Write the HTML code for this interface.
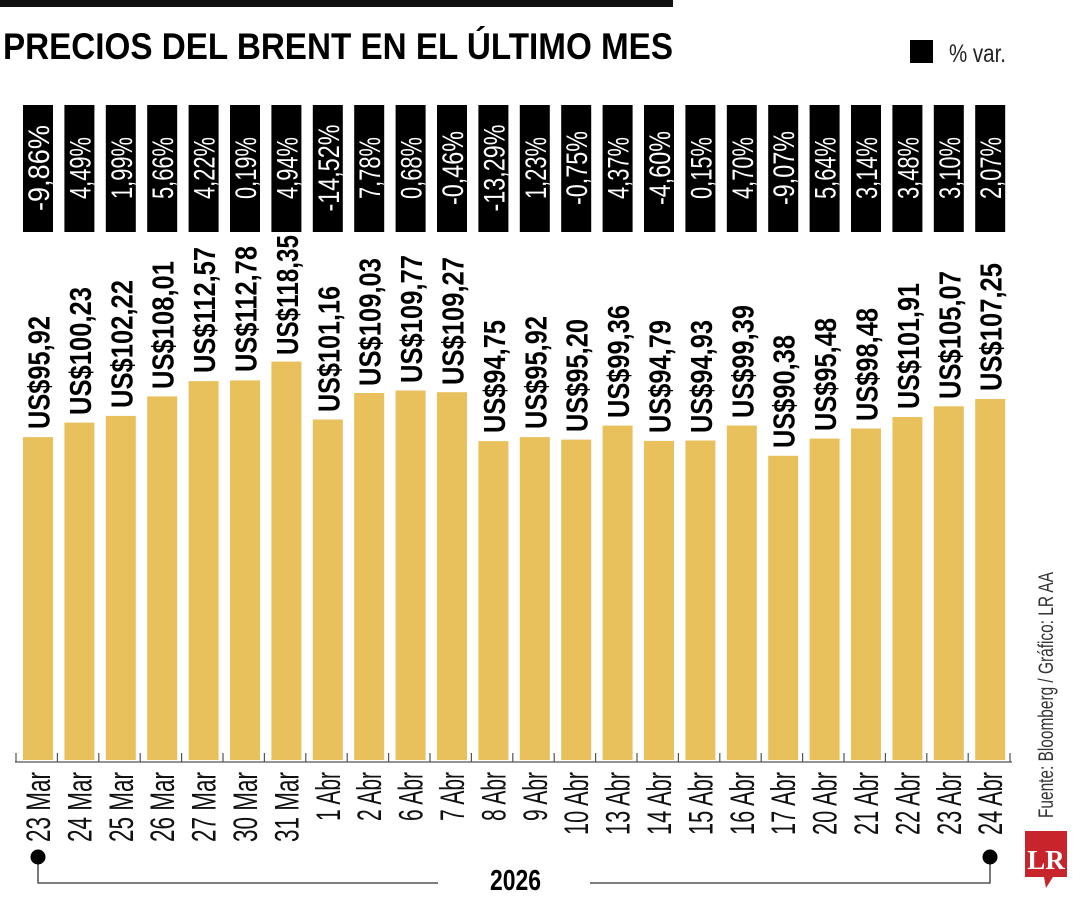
<!DOCTYPE html>
<html><head><meta charset="utf-8"><style>
html,body{margin:0;padding:0;background:#fff;width:1080px;height:900px;overflow:hidden}
svg{display:block}
text{font-family:"Liberation Sans",sans-serif}
.v{font-size:31px;font-weight:bold;fill:#000}
.p{font-size:30px;fill:#fff}
.d{font-size:34px;fill:#111}
</style></head><body>
<svg width="1080" height="900" viewBox="0 0 1080 900" xmlns="http://www.w3.org/2000/svg">
<rect x="0" y="0" width="673" height="7" fill="#111"/>
<text x="3" y="59" font-size="37" font-weight="bold" textLength="670" lengthAdjust="spacingAndGlyphs">PRECIOS DEL BRENT EN EL ÚLTIMO MES</text>
<rect x="910" y="40" width="23" height="23" fill="#000"/>
<text x="949" y="62" font-size="25" fill="#222" textLength="57" lengthAdjust="spacingAndGlyphs">% var.</text>

<g fill="#000">
<rect x="23" y="105" width="30" height="127"/><rect x="64.4" y="105" width="30" height="127"/><rect x="105.8" y="105" width="30" height="127"/><rect x="147.2" y="105" width="30" height="127"/><rect x="188.6" y="105" width="30" height="127"/><rect x="230" y="105" width="30" height="127"/><rect x="271.4" y="105" width="30" height="127"/><rect x="312.8" y="105" width="30" height="127"/><rect x="354.2" y="105" width="30" height="127"/><rect x="395.6" y="105" width="30" height="127"/><rect x="437" y="105" width="30" height="127"/><rect x="478.4" y="105" width="30" height="127"/><rect x="519.8" y="105" width="30" height="127"/><rect x="561.2" y="105" width="30" height="127"/><rect x="602.6" y="105" width="30" height="127"/><rect x="644" y="105" width="30" height="127"/><rect x="685.4" y="105" width="30" height="127"/><rect x="726.8" y="105" width="30" height="127"/><rect x="768.2" y="105" width="30" height="127"/><rect x="809.6" y="105" width="30" height="127"/><rect x="851" y="105" width="30" height="127"/><rect x="892.4" y="105" width="30" height="127"/><rect x="933.8" y="105" width="30" height="127"/><rect x="975.2" y="105" width="30" height="127"/>
</g>
<g class="p" text-anchor="middle">
<text transform="translate(49,168) rotate(-90)" textLength="86" lengthAdjust="spacingAndGlyphs">-9,86%</text>
<text transform="translate(90.4,168) rotate(-90)" textLength="62" lengthAdjust="spacingAndGlyphs">4,49%</text>
<text transform="translate(131.8,168) rotate(-90)" textLength="62" lengthAdjust="spacingAndGlyphs">1,99%</text>
<text transform="translate(173.2,168) rotate(-90)" textLength="62" lengthAdjust="spacingAndGlyphs">5,66%</text>
<text transform="translate(214.6,168) rotate(-90)" textLength="62" lengthAdjust="spacingAndGlyphs">4,22%</text>
<text transform="translate(256,168) rotate(-90)" textLength="62" lengthAdjust="spacingAndGlyphs">0,19%</text>
<text transform="translate(297.4,168) rotate(-90)" textLength="62" lengthAdjust="spacingAndGlyphs">4,94%</text>
<text transform="translate(338.8,168) rotate(-90)" textLength="87" lengthAdjust="spacingAndGlyphs">-14,52%</text>
<text transform="translate(380.2,168) rotate(-90)" textLength="62" lengthAdjust="spacingAndGlyphs">7,78%</text>
<text transform="translate(421.6,168) rotate(-90)" textLength="62" lengthAdjust="spacingAndGlyphs">0,68%</text>
<text transform="translate(463,168) rotate(-90)" textLength="74" lengthAdjust="spacingAndGlyphs">-0,46%</text>
<text transform="translate(504.4,168) rotate(-90)" textLength="87" lengthAdjust="spacingAndGlyphs">-13,29%</text>
<text transform="translate(545.8,168) rotate(-90)" textLength="62" lengthAdjust="spacingAndGlyphs">1,23%</text>
<text transform="translate(587.2,168) rotate(-90)" textLength="74" lengthAdjust="spacingAndGlyphs">-0,75%</text>
<text transform="translate(628.6,168) rotate(-90)" textLength="62" lengthAdjust="spacingAndGlyphs">4,37%</text>
<text transform="translate(670,168) rotate(-90)" textLength="74" lengthAdjust="spacingAndGlyphs">-4,60%</text>
<text transform="translate(711.4,168) rotate(-90)" textLength="62" lengthAdjust="spacingAndGlyphs">0,15%</text>
<text transform="translate(752.8,168) rotate(-90)" textLength="62" lengthAdjust="spacingAndGlyphs">4,70%</text>
<text transform="translate(794.2,168) rotate(-90)" textLength="74" lengthAdjust="spacingAndGlyphs">-9,07%</text>
<text transform="translate(835.6,168) rotate(-90)" textLength="62" lengthAdjust="spacingAndGlyphs">5,64%</text>
<text transform="translate(877,168) rotate(-90)" textLength="62" lengthAdjust="spacingAndGlyphs">3,14%</text>
<text transform="translate(918.4,168) rotate(-90)" textLength="62" lengthAdjust="spacingAndGlyphs">3,48%</text>
<text transform="translate(959.8,168) rotate(-90)" textLength="62" lengthAdjust="spacingAndGlyphs">3,10%</text>
<text transform="translate(1001.2,168) rotate(-90)" textLength="62" lengthAdjust="spacingAndGlyphs">2,07%</text>
</g>

<g fill="#E8C05C">
<rect x="23" y="437.1" width="30" height="322.9"/>
<rect x="64.4" y="422.6" width="30" height="337.4"/>
<rect x="105.8" y="415.9" width="30" height="344.1"/>
<rect x="147.2" y="396.4" width="30" height="363.6"/>
<rect x="188.6" y="381.1" width="30" height="378.9"/>
<rect x="230" y="380.4" width="30" height="379.6"/>
<rect x="271.4" y="361.6" width="30" height="398.4"/>
<rect x="312.8" y="419.5" width="30" height="340.5"/>
<rect x="354.2" y="393" width="30" height="367"/>
<rect x="395.6" y="390.5" width="30" height="369.5"/>
<rect x="437" y="392.2" width="30" height="367.8"/>
<rect x="478.4" y="441.1" width="30" height="318.9"/>
<rect x="519.8" y="437.1" width="30" height="322.9"/>
<rect x="561.2" y="439.6" width="30" height="320.4"/>
<rect x="602.6" y="425.6" width="30" height="334.4"/>
<rect x="644" y="440.9" width="30" height="319.1"/>
<rect x="685.4" y="440.5" width="30" height="319.5"/>
<rect x="726.8" y="425.5" width="30" height="334.5"/>
<rect x="768.2" y="455.8" width="30" height="304.2"/>
<rect x="809.6" y="438.6" width="30" height="321.4"/>
<rect x="851" y="428.5" width="30" height="331.5"/>
<rect x="892.4" y="417" width="30" height="343"/>
<rect x="933.8" y="406.3" width="30" height="353.7"/>
<rect x="975.2" y="399" width="30" height="361"/>
</g>

<g class="v">
<text transform="translate(49.5,429) rotate(-90)" textLength="113" lengthAdjust="spacingAndGlyphs">US$95,92</text>
<text transform="translate(90.9,415) rotate(-90)" textLength="128" lengthAdjust="spacingAndGlyphs">US$100,23</text>
<text transform="translate(132.3,408) rotate(-90)" textLength="128" lengthAdjust="spacingAndGlyphs">US$102,22</text>
<text transform="translate(173.7,389) rotate(-90)" textLength="128" lengthAdjust="spacingAndGlyphs">US$108,01</text>
<text transform="translate(215.1,373) rotate(-90)" textLength="126" lengthAdjust="spacingAndGlyphs">US$112,57</text>
<text transform="translate(256.5,372) rotate(-90)" textLength="126" lengthAdjust="spacingAndGlyphs">US$112,78</text>
<text transform="translate(297.9,355) rotate(-90)" textLength="120" lengthAdjust="spacingAndGlyphs">US$118,35</text>
<text transform="translate(339.3,412) rotate(-90)" textLength="126" lengthAdjust="spacingAndGlyphs">US$101,16</text>
<text transform="translate(380.7,386) rotate(-90)" textLength="128" lengthAdjust="spacingAndGlyphs">US$109,03</text>
<text transform="translate(422.1,383) rotate(-90)" textLength="128" lengthAdjust="spacingAndGlyphs">US$109,77</text>
<text transform="translate(463.5,385) rotate(-90)" textLength="128" lengthAdjust="spacingAndGlyphs">US$109,27</text>
<text transform="translate(504.9,433) rotate(-90)" textLength="113" lengthAdjust="spacingAndGlyphs">US$94,75</text>
<text transform="translate(546.3,429) rotate(-90)" textLength="113" lengthAdjust="spacingAndGlyphs">US$95,92</text>
<text transform="translate(587.7,432) rotate(-90)" textLength="113" lengthAdjust="spacingAndGlyphs">US$95,20</text>
<text transform="translate(629.1,418) rotate(-90)" textLength="113" lengthAdjust="spacingAndGlyphs">US$99,36</text>
<text transform="translate(670.5,433) rotate(-90)" textLength="113" lengthAdjust="spacingAndGlyphs">US$94,79</text>
<text transform="translate(711.9,433) rotate(-90)" textLength="113" lengthAdjust="spacingAndGlyphs">US$94,93</text>
<text transform="translate(753.3,418) rotate(-90)" textLength="113" lengthAdjust="spacingAndGlyphs">US$99,39</text>
<text transform="translate(794.7,448) rotate(-90)" textLength="113" lengthAdjust="spacingAndGlyphs">US$90,38</text>
<text transform="translate(836.1,431) rotate(-90)" textLength="113" lengthAdjust="spacingAndGlyphs">US$95,48</text>
<text transform="translate(877.5,421) rotate(-90)" textLength="113" lengthAdjust="spacingAndGlyphs">US$98,48</text>
<text transform="translate(918.9,409) rotate(-90)" textLength="126" lengthAdjust="spacingAndGlyphs">US$101,91</text>
<text transform="translate(960.3,399) rotate(-90)" textLength="128" lengthAdjust="spacingAndGlyphs">US$105,07</text>
<text transform="translate(1001.7,391) rotate(-90)" textLength="128" lengthAdjust="spacingAndGlyphs">US$107,25</text>
</g>

<g stroke="#555" stroke-width="1.2" fill="none">
<line x1="15" y1="762" x2="1012" y2="762"/>
<path d="M16 753V762M57.4 753V762M98.8 753V762M140.2 753V762M181.6 753V762M223 753V762M264.4 753V762M305.8 753V762M347.2 753V762M388.6 753V762M430 753V762M471.4 753V762M512.8 753V762M554.2 753V762M595.6 753V762M637 753V762M678.4 753V762M719.8 753V762M761.2 753V762M802.6 753V762M844 753V762M885.4 753V762M926.8 753V762M968.2 753V762M1010 753V762"/>
</g>

<g class="d" text-anchor="end">
<text transform="translate(50,772) rotate(-90)" textLength="70" lengthAdjust="spacingAndGlyphs">23 Mar</text>
<text transform="translate(91.4,772) rotate(-90)" textLength="70" lengthAdjust="spacingAndGlyphs">24 Mar</text>
<text transform="translate(132.8,772) rotate(-90)" textLength="70" lengthAdjust="spacingAndGlyphs">25 Mar</text>
<text transform="translate(174.2,772) rotate(-90)" textLength="70" lengthAdjust="spacingAndGlyphs">26 Mar</text>
<text transform="translate(215.6,772) rotate(-90)" textLength="70" lengthAdjust="spacingAndGlyphs">27 Mar</text>
<text transform="translate(257,772) rotate(-90)" textLength="70" lengthAdjust="spacingAndGlyphs">30 Mar</text>
<text transform="translate(298.4,772) rotate(-90)" textLength="70" lengthAdjust="spacingAndGlyphs">31 Mar</text>
<text transform="translate(339.8,772) rotate(-90)" textLength="49" lengthAdjust="spacingAndGlyphs">1 Abr</text>
<text transform="translate(381.2,772) rotate(-90)" textLength="49" lengthAdjust="spacingAndGlyphs">2 Abr</text>
<text transform="translate(422.6,772) rotate(-90)" textLength="49" lengthAdjust="spacingAndGlyphs">6 Abr</text>
<text transform="translate(464,772) rotate(-90)" textLength="49" lengthAdjust="spacingAndGlyphs">7 Abr</text>
<text transform="translate(505.4,772) rotate(-90)" textLength="49" lengthAdjust="spacingAndGlyphs">8 Abr</text>
<text transform="translate(546.8,772) rotate(-90)" textLength="49" lengthAdjust="spacingAndGlyphs">9 Abr</text>
<text transform="translate(588.2,772) rotate(-90)" textLength="63" lengthAdjust="spacingAndGlyphs">10 Abr</text>
<text transform="translate(629.6,772) rotate(-90)" textLength="63" lengthAdjust="spacingAndGlyphs">13 Abr</text>
<text transform="translate(671,772) rotate(-90)" textLength="63" lengthAdjust="spacingAndGlyphs">14 Abr</text>
<text transform="translate(712.4,772) rotate(-90)" textLength="63" lengthAdjust="spacingAndGlyphs">15 Abr</text>
<text transform="translate(753.8,772) rotate(-90)" textLength="63" lengthAdjust="spacingAndGlyphs">16 Abr</text>
<text transform="translate(795.2,772) rotate(-90)" textLength="63" lengthAdjust="spacingAndGlyphs">17 Abr</text>
<text transform="translate(836.6,772) rotate(-90)" textLength="63" lengthAdjust="spacingAndGlyphs">20 Abr</text>
<text transform="translate(878,772) rotate(-90)" textLength="63" lengthAdjust="spacingAndGlyphs">21 Abr</text>
<text transform="translate(919.4,772) rotate(-90)" textLength="63" lengthAdjust="spacingAndGlyphs">22 Abr</text>
<text transform="translate(960.8,772) rotate(-90)" textLength="63" lengthAdjust="spacingAndGlyphs">23 Abr</text>
<text transform="translate(1002.2,772) rotate(-90)" textLength="63" lengthAdjust="spacingAndGlyphs">24 Abr</text>
</g>

<g stroke="#333" stroke-width="1.3" fill="none">
<path d="M38 857V883H438"/>
<path d="M590 883H990V857"/>
</g>
<circle cx="38" cy="857" r="7.5" fill="#000"/>
<circle cx="990" cy="857" r="7.5" fill="#000"/>
<text x="490" y="890" font-size="29" font-weight="bold" textLength="51" lengthAdjust="spacingAndGlyphs">2026</text>

<text transform="translate(1053,818) rotate(-90)" font-size="21" fill="#333" textLength="246" lengthAdjust="spacingAndGlyphs">Fuente: Bloomberg / Gráfico: LR AA</text>

<path d="M1025 831H1067V877H1053L1046 888L1044 877H1025Z" fill="#C8242B"/>
<text x="1046" y="869" text-anchor="middle" font-size="27" font-weight="bold" fill="#fff" style="font-family:'Liberation Serif',serif">LR</text>
</svg>
</body></html>
